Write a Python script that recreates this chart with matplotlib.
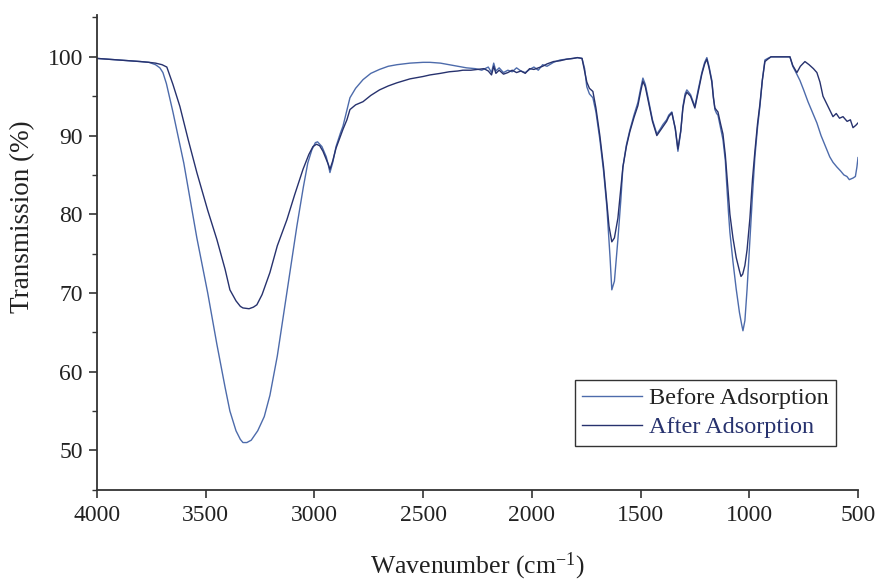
import matplotlib
matplotlib.use("Agg")
import matplotlib.pyplot as plt
from matplotlib.ticker import MultipleLocator

# Before Adsorption (wavenumber, transmission)
before_x = [4000, 3950, 3900, 3850, 3800, 3760, 3730, 3710, 3696, 3680, 3650, 3600, 3540,
            3490, 3448, 3410, 3388, 3360, 3340, 3328, 3310, 3290, 3260, 3230, 3204, 3170,
            3140, 3112, 3080, 3050, 3030, 3011, 2995, 2985, 2965, 2945, 2935, 2928, 2915,
            2900, 2880, 2868, 2850, 2836, 2810, 2776, 2740, 2700, 2660, 2620, 2560, 2500,
            2468, 2420, 2380, 2340, 2300, 2260, 2230, 2200, 2185, 2175, 2165, 2150, 2130,
            2110, 2090, 2070, 2050, 2030, 2010, 1990, 1970, 1950, 1930, 1900, 1870, 1840,
            1810, 1790, 1769, 1757, 1747, 1735, 1719, 1705, 1687, 1670, 1655, 1640, 1632,
            1620, 1604, 1590, 1581, 1565, 1549, 1530, 1512, 1500, 1489, 1478, 1466, 1445,
            1425, 1410, 1397, 1380, 1370, 1356, 1340, 1328, 1315, 1305, 1295, 1287, 1270,
            1250, 1235, 1218, 1205, 1195, 1185, 1172, 1165, 1158, 1150, 1144, 1132, 1121,
            1110, 1103, 1095, 1089, 1075, 1060, 1045, 1035, 1029, 1020, 1010, 997, 985,
            974, 962, 951, 940, 928, 915, 900, 880, 860, 840, 813, 800, 785, 767, 750, 730,
            710, 689, 670, 655, 643, 630, 615, 597, 580, 565, 551, 540, 523, 512, 505, 500]
before_y = [99.8, 99.7, 99.6, 99.5, 99.4, 99.3, 99.0, 98.6, 98.0, 96.6, 93.0, 86.5, 77.0,
            70.0, 63.5, 58.0, 55.0, 52.5, 51.4, 51.0, 51.0, 51.3, 52.5, 54.3, 57.0, 62.0,
            67.5, 72.6, 78.5, 83.5, 86.5, 88.2, 89.1, 89.2, 88.6, 87.3, 86.2, 85.3, 86.6,
            88.6, 90.3, 91.2, 93.2, 94.8, 96.0, 97.1, 97.9, 98.4, 98.8, 99.0, 99.2, 99.3,
            99.3, 99.2, 99.0, 98.8, 98.6, 98.5, 98.3, 98.7, 98.0, 99.2, 98.2, 98.6, 98.0,
            98.3, 98.1, 98.6, 98.2, 98.0, 98.4, 98.7, 98.3, 99.0, 98.8, 99.3, 99.6, 99.7,
            99.8, 99.9, 99.8, 98.5, 96.2, 95.3, 94.8, 93.0, 89.5, 85.5, 81.0, 74.5, 70.4,
            71.5, 76.8, 82.0, 86.0, 88.8, 90.7, 92.6, 94.2, 95.9, 97.3, 96.5, 94.9, 92.0,
            90.2, 90.8, 91.4, 92.0, 92.6, 93.0, 90.8, 88.0, 90.5, 93.7, 95.3, 95.8, 95.2,
            93.7, 95.8, 98.0, 99.3, 99.9, 98.8, 97.0, 95.0, 93.3, 92.8, 92.6, 91.0, 89.5,
            86.8, 83.5, 80.0, 77.7, 74.0, 70.5, 67.5, 66.0, 65.2, 66.5, 70.5, 76.8, 82.5,
            87.3, 91.0, 93.7, 97.0, 99.6, 99.8, 100.0, 100.0, 100.0, 100.0, 100.0, 98.8,
            98.0, 97.0, 95.8, 94.3, 93.0, 91.6, 90.0, 89.0, 88.2, 87.3, 86.6, 86.0, 85.5,
            85.0, 84.8, 84.4, 84.6, 84.8, 86.0, 87.2]

# After Adsorption (wavenumber, transmission)
after_x = [4000, 3950, 3900, 3850, 3800, 3760, 3730, 3700, 3678, 3650, 3618, 3580, 3540,
           3490, 3448, 3410, 3388, 3360, 3340, 3328, 3300, 3280, 3264, 3240, 3204, 3170,
           3126, 3090, 3052, 3025, 3006, 2990, 2975, 2960, 2945, 2935, 2928, 2915, 2900,
           2880, 2868, 2850, 2836, 2810, 2776, 2740, 2700, 2660, 2620, 2560, 2500, 2468,
           2420, 2380, 2340, 2317, 2280, 2250, 2220, 2200, 2185, 2175, 2165, 2150, 2130,
           2110, 2090, 2070, 2050, 2030, 2010, 1990, 1970, 1950, 1930, 1900, 1870, 1840,
           1810, 1790, 1769, 1757, 1747, 1735, 1719, 1705, 1687, 1670, 1655, 1645, 1632,
           1620, 1604, 1590, 1581, 1565, 1549, 1530, 1512, 1500, 1489, 1478, 1466, 1445,
           1425, 1410, 1397, 1380, 1370, 1356, 1340, 1328, 1315, 1305, 1295, 1287, 1270,
           1250, 1235, 1218, 1205, 1195, 1185, 1172, 1165, 1158, 1150, 1144, 1132, 1121,
           1110, 1103, 1095, 1089, 1075, 1060, 1045, 1038, 1030, 1020, 1010, 997, 985,
           974, 962, 951, 940, 928, 915, 900, 880, 860, 840, 813, 800, 781, 765, 744, 725,
           705, 689, 675, 661, 640, 615, 600, 585, 569, 550, 535, 523, 510, 500]
after_y = [99.8, 99.7, 99.6, 99.5, 99.4, 99.3, 99.2, 99.0, 98.7, 96.5, 93.7, 89.5, 85.3,
           80.5, 76.8, 73.0, 70.4, 69.0, 68.3, 68.1, 68.0, 68.2, 68.5, 69.8, 72.6, 76.0,
           79.3, 82.5, 85.7, 87.6, 88.6, 88.9, 88.7, 88.0, 87.0, 86.3, 85.7, 86.8, 88.4,
           89.9, 90.8, 92.0, 93.3, 93.9, 94.3, 95.1, 95.8, 96.3, 96.7, 97.2, 97.5, 97.7,
           97.9, 98.1, 98.2, 98.3, 98.3, 98.4, 98.5, 98.2, 97.7, 98.8, 97.9, 98.3, 97.8,
           98.0, 98.3, 98.0, 98.2, 97.9, 98.5, 98.4, 98.6, 98.8, 99.1, 99.4, 99.5, 99.7,
           99.8, 99.9, 99.8, 98.2, 96.8, 96.0, 95.6, 93.5, 90.0, 86.0, 81.5, 78.5, 76.5,
           77.0, 79.5, 83.5, 86.0, 88.6, 90.5, 92.3, 93.8, 95.5, 96.9, 96.2, 94.6, 91.8,
           90.0, 90.6, 91.1, 91.8, 92.4, 92.9, 90.9, 88.3, 90.6, 93.5, 95.0, 95.5, 95.0,
           93.5, 95.5, 97.8, 99.1, 99.7, 98.6, 96.8, 94.8, 93.5, 93.2, 93.0, 91.5, 90.2,
           87.5, 85.0, 82.0, 80.0, 77.0, 74.5, 72.8, 72.1, 72.4, 73.5, 75.5, 79.5, 84.5,
           88.0, 91.5, 94.0, 97.0, 99.4, 99.7, 100.0, 100.0, 100.0, 100.0, 100.0, 98.9,
           98.0, 98.8, 99.4, 99.0, 98.5, 98.0, 96.8, 95.0, 93.8, 92.4, 92.8, 92.2, 92.4,
           91.8, 92.0, 91.0, 91.3, 91.6]

x_ticks = [4000, 3500, 3000, 2500, 2000, 1500, 1000, 500]
y_ticks = [50, 60, 70, 80, 90, 100]

plt.rcParams['font.family'] = ['Liberation Serif', 'DejaVu Serif']
plt.rcParams['mathtext.fontset'] = 'stix'
plt.rcParams['mathtext.default'] = 'regular'

fig = plt.figure(figsize=(8.8, 5.81), dpi=100)
ax = fig.add_axes([0.110, 0.157, 0.865, 0.817])

ax.plot(before_x, before_y, color='#4d6bab', lw=1.0, label='Before Adsorption')
ax.plot(after_x, after_y, color='#27326e', lw=1.0, label='After Adsorption')

ax.set_xlim(4000, 500)
ax.set_ylim(45, 105.3)
ax.set_xticks(x_ticks)
ax.set_yticks(y_ticks)
ax.yaxis.set_minor_locator(MultipleLocator(5))

for s in ['top', 'right']:
    ax.spines[s].set_visible(False)
for s in ['left', 'bottom']:
    ax.spines[s].set_color('#333333')
    ax.spines[s].set_linewidth(1.3)

ax.tick_params(axis='both', which='major', direction='out', length=6, width=1.2,
               labelsize=17, colors='#333333', labelcolor='#222222')
ax.tick_params(axis='x', which='major', pad=5)
ax.tick_params(axis='y', which='major', pad=4)
ax.tick_params(axis='y', which='minor', direction='out', length=3.5, width=1.0, colors='#333333')

ax.set_xlabel('Wavenumber (cm$^{-1}$)', fontsize=18.5, color='#222222')
ax.set_ylabel('Transmission (%)', fontsize=19.5, color='#222222')
ax.xaxis.set_label_coords(0.50, -0.128)
ax.yaxis.set_label_coords(-0.081, 0.575)

leg = ax.legend(loc='lower right', bbox_to_anchor=(0.971, 0.093), fontsize=17.5,
                frameon=True, fancybox=False, edgecolor='#333333', framealpha=1,
                handlelength=2.45, borderpad=0.3, labelspacing=0.3, handletextpad=0.3,
                borderaxespad=0)
leg.get_frame().set_linewidth(1.0)
for t, c in zip(leg.get_texts(), ['#222222', '#27326e']):
    t.set_color(c)

fig.savefig('out.png', dpi=100)
